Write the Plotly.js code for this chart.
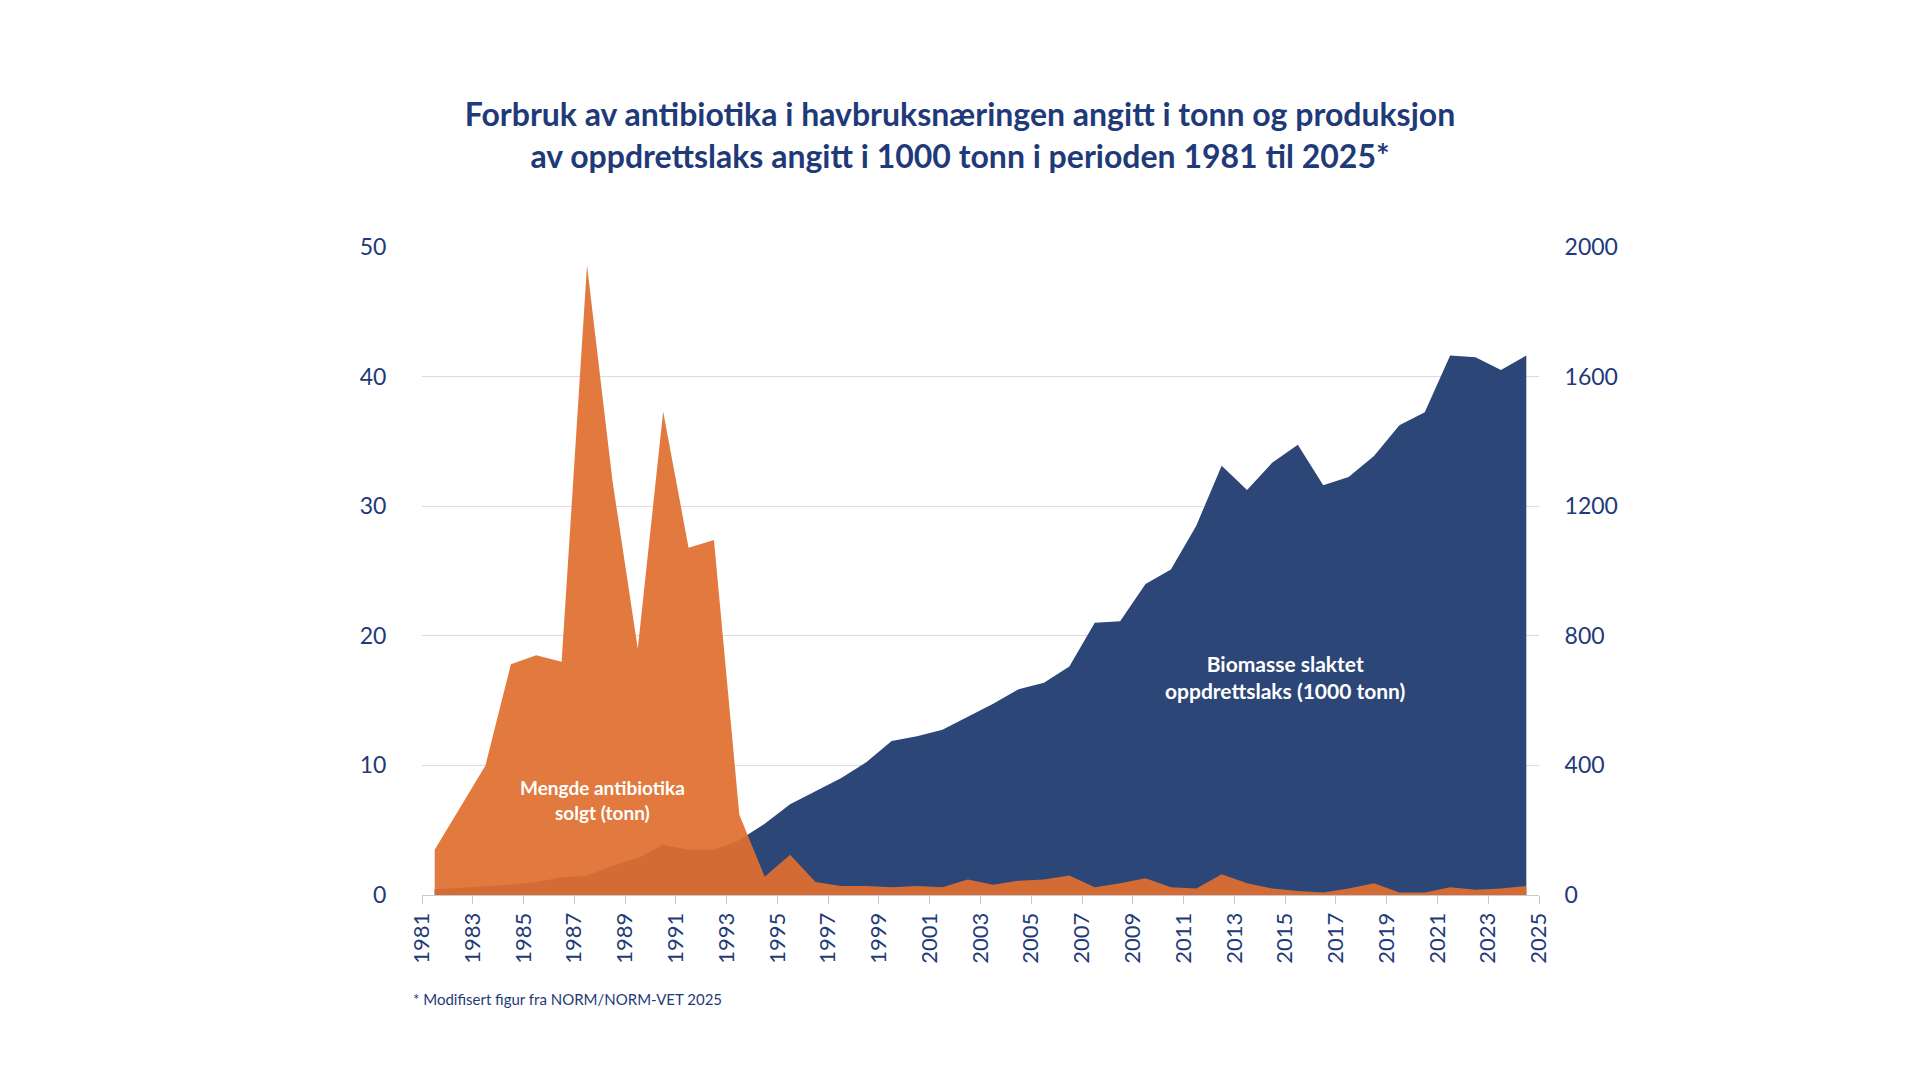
<!DOCTYPE html>
<html><head><meta charset="utf-8">
<script src="https://cdn.plot.ly/plotly-3.0.1.min.js"></script>
<style>body{margin:0;background:#fff}#c{width:1920px;height:1080px}</style>
</head><body><div id="c"></div>
<script>
const years = [];
for (let y = 1981; y <= 2024; y++) years.push(y);
const antibiotika = [3.5,6.7,10,17.8,18.5,18,48.6,32,19,37.3,26.8,27.4,6.2,1.4,3.1,1.0,0.7,0.7,0.6,0.7,0.6,1.2,0.8,1.1,1.2,1.5,0.6,0.9,1.3,0.6,0.5,1.6,0.9,0.5,0.3,0.2,0.5,0.9,0.2,0.2,0.6,0.4,0.5,0.7];
const biomasse = [18,22,28,32,40,55,60,90,115,155,140,140,170,220,280,320,360,410,475,490,510,550,590,635,655,705,840,845,960,1005,1140,1325,1250,1335,1390,1265,1290,1355,1450,1490,1665,1660,1620,1665];
const tickYears = [];
for (let y = 1981; y <= 2025; y += 2) tickYears.push(y);
const xMid = years.map(y => y + 0.5);
// left axis 0-50 maps onto right axis 0-2000
const scale = 40;

const navy = '#1f3a78';
const traces = [
 {x: xMid, y: biomasse, yaxis: 'y2', type: 'scatter', mode: 'lines', fill: 'tozeroy',
  line: {width: 0, color: '#2c4678'}, fillcolor: '#2c4678', hoverinfo: 'skip'},
 {x: xMid, y: antibiotika.map(v => v * scale), yaxis: 'y2', type: 'scatter', mode: 'lines', fill: 'tozeroy',
  line: {width: 0, color: '#e06f2f'}, fillcolor: 'rgba(224,111,47,0.93)', hoverinfo: 'skip'}
];
const layout = {
 width: 1920, height: 1080, showlegend: false,
 paper_bgcolor: '#fff', plot_bgcolor: '#fff',
 font: {family: 'Lato, sans-serif', color: navy},
 margin: {l: 422, r: 381, t: 247, b: 185},
 title: {text: '<b>Forbruk av antibiotika i havbruksnæringen angitt i tonn og produksjon<br>av oppdrettslaks angitt i 1000 tonn i perioden 1981 til 2025*</b>',
  x: 0.5, xanchor: 'center', y: 0.883, yanchor: 'middle', font: {size: 32, color: navy}},
 xaxis: {range: [1981, 2025], tickvals: tickYears, ticktext: tickYears.map(String), tickangle: -90,
  showgrid: false, zeroline: false, showline: true, linecolor: '#c8c8d0', ticks: 'outside', ticklen: 8,
  tickcolor: '#c8c8d0', tickfont: {size: 22, color: navy}},
 yaxis: {range: [0, 50], tickvals: [0,10,20,30,40,50], gridcolor: '#dcdce0', zeroline: false,
  tickfont: {size: 23, color: navy}, ticklen: 30, ticks: 'outside', tickcolor: 'rgba(0,0,0,0)'},
 yaxis2: {range: [0, 2000], overlaying: 'y', side: 'right', tickvals: [0,400,800,1200,1600,2000],
  showgrid: false, zeroline: false, tickfont: {size: 23, color: navy}, ticklen: 20, ticks: 'outside', tickcolor: 'rgba(0,0,0,0)'},
 annotations: [
  {text: '<b>Mengde antibiotika<br>solgt (tonn)</b>', x: 1988.1, y: 7.3, xref: 'x', yref: 'y', showarrow: false,
   font: {size: 19, color: '#fff'}},
  {text: '<b>Biomasse slaktet<br>oppdrettslaks (1000 tonn)</b>', x: 2015, y: 16.8, xref: 'x', yref: 'y', showarrow: false,
   font: {size: 21, color: '#fff'}},
  {text: '* Modifisert figur fra NORM/NORM-VET 2025', xref: 'paper', yref: 'paper', x: -0.01, xanchor: 'left',
   y: -0.16, yanchor: 'middle', showarrow: false, font: {size: 15, color: navy}}
 ]
};
Plotly.newPlot('c', traces, layout, {staticPlot: true});
</script></body></html>
